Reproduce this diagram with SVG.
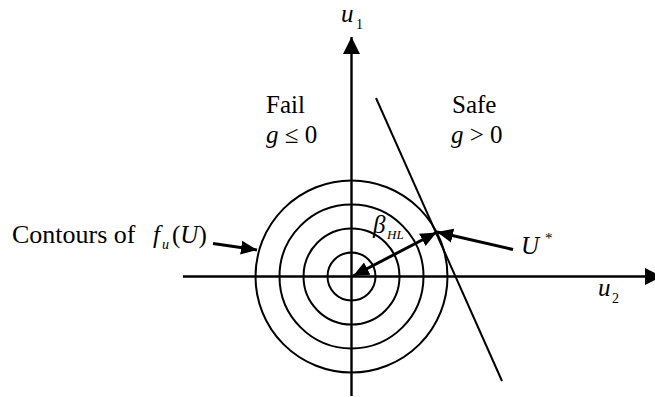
<svg xmlns="http://www.w3.org/2000/svg" width="655" height="397" viewBox="0 0 655 397">
  <style>
    .ln { stroke: #000; fill: none; }
    .ax { stroke: #000; stroke-width: 2.4; fill: none; }
    .ct { stroke: #000; stroke-width: 2; fill: none; }
    .ar { stroke: #000; stroke-width: 3; fill: none; }
    text { font-family: "Liberation Serif", "Times New Roman", "DejaVu Serif", serif; fill: #000; }
    .t { font-size: 25px; }
    .i { font-style: italic; }
  </style>
  <defs>
    <marker id="ah" markerUnits="userSpaceOnUse" markerWidth="18" markerHeight="16" refX="16" refY="8" orient="auto-start-reverse">
      <path d="M0,1 L16,8 L0,15 Z" fill="#000"/>
    </marker>
    <marker id="axh" markerUnits="userSpaceOnUse" markerWidth="18" markerHeight="18" refX="17" refY="9" orient="auto">
      <path d="M0,0.5 L17,9 L0,17.5 Z" fill="#000"/>
    </marker>
  </defs>

  <g id="axes">
    <line class="ax" x1="351.5" y1="396" x2="351.5" y2="37" marker-end="url(#axh)"/>
    <line class="ax" x1="183" y1="276.5" x2="662" y2="276.5" marker-end="url(#axh)"/>
  </g>

  <g id="contours">
    <circle class="ct" cx="351.5" cy="276.5" r="24"/>
    <circle class="ct" cx="351.5" cy="276.5" r="48"/>
    <circle class="ct" cx="351.5" cy="276.5" r="72"/>
    <circle class="ct" cx="351.5" cy="276.5" r="96"/>
  </g>

  <g id="limit-state">
    <line class="ln" stroke-width="2" x1="376" y1="98" x2="502" y2="381"/>
  </g>

  <g id="labels">
    <text class="t i" x="341" y="22" font-size="24">u</text>
    <text x="356" y="29" font-size="14">1</text>
    <text class="t" x="266" y="113">Fail</text>
    <text class="t" x="266" y="143"><tspan class="i">g</tspan> ≤ 0</text>
    <text class="t" x="452" y="113">Safe</text>
    <text class="t" x="451" y="143"><tspan class="i">g</tspan> &gt; 0</text>
    <text x="12" y="243" font-size="26">Contours of</text>
    <text class="t i" x="153" y="243">f</text>
    <text class="i" x="162" y="249" font-size="14">u</text>
    <text class="t" x="172" y="243">(<tspan class="i">U</tspan>)</text>
    <text class="t i" x="373" y="233">β</text>
    <text class="i" x="387" y="239" font-size="13">HL</text>
    <text class="t i" x="521" y="254">U</text>
    <text x="545" y="243" font-size="15">*</text>
    <text class="t i" x="598" y="296" font-size="24">u</text>
    <text x="612" y="303" font-size="14">2</text>
  </g>

  <g id="connectors">
    <line class="ar" x1="213" y1="243.5" x2="257" y2="250" marker-end="url(#ah)"/>
    <line class="ar" x1="353" y1="276" x2="436.5" y2="232.5" marker-start="url(#ah)" marker-end="url(#ah)"/>
    <line class="ar" x1="513" y1="249.5" x2="437" y2="232" marker-end="url(#ah)"/>
  </g>
</svg>
